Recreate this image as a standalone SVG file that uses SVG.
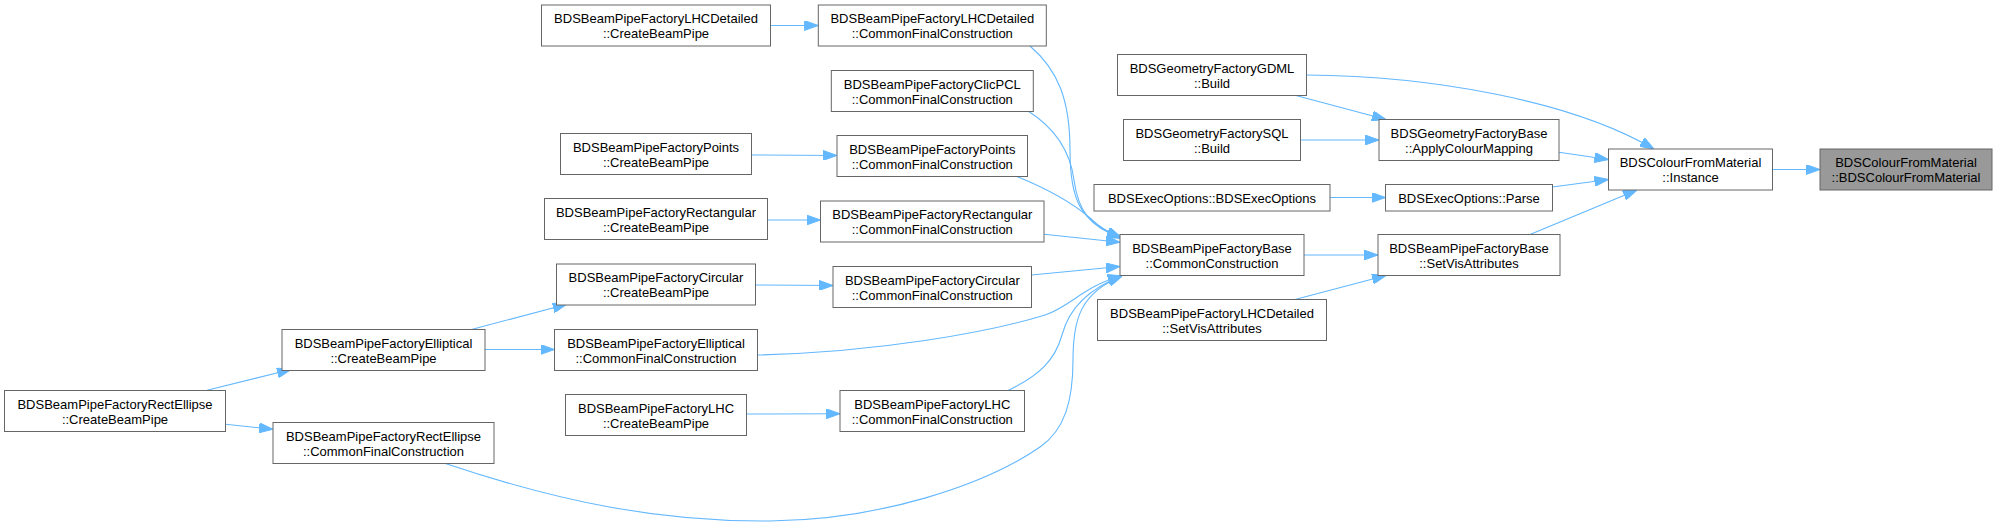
<svg xmlns="http://www.w3.org/2000/svg" width="1997" height="527" viewBox="0 0 1997 527">
<style>
.n rect{fill:#ffffff;stroke:#666666;stroke-width:1}
.n.hl rect{fill:#999999}
.n text{font-family:"Liberation Sans",Arial,Helvetica,sans-serif;font-size:13px;fill:#000000;text-anchor:middle}
.e path{fill:none;stroke:#63b8ff;stroke-width:1.1;marker-end:url(#ah)}
</style>
<defs>
<marker id="ah" markerUnits="userSpaceOnUse" markerWidth="14" markerHeight="10" viewBox="0 0 14 10" refX="14" refY="5" orient="auto">
<path d="M0,0 L14,5 L0,10 z" fill="#63b8ff" stroke="#63b8ff" stroke-width="1"/>
</marker>
</defs>
<rect x="0" y="0" width="1997" height="527" fill="#ffffff"/>
<g id="connectors" class="e">
<path d="M770.5,25.5 L818.3,25.5"/>
<path d="M1030,46 C1058,70 1070,100 1070,150 C1070,200 1080,222 1121,237"/>
<path d="M1028,111 C1055,128 1070,150 1074,180 C1078,210 1090,228 1121,237.5"/>
<path d="M751.5,155 L837,155.5"/>
<path d="M1017,176.5 C1050,190 1075,205 1090,218 C1100,228 1110,233 1121,238.5"/>
<path d="M767.5,220 L820.5,220"/>
<path d="M1044,234.3 L1120,242.3"/>
<path d="M755.5,285 L833,285.5"/>
<path d="M1031.5,275 L1120,266.5"/>
<path d="M471.4,329.5 L566.8,304.3"/>
<path d="M485,349.5 L554.5,349.5"/>
<path d="M757.5,355 C880,352 990,332 1045,315 C1070,307 1085,285 1122,276"/>
<path d="M746.5,414 L840,413.7"/>
<path d="M1008,390.5 C1040,375 1055,360 1062,335 C1068,312 1085,290 1122,276"/>
<path d="M207.1,390.3 L291.1,369.5"/>
<path d="M225.5,424.3 L273,429.3"/>
<path d="M444.6,463.3 C560,502 660,522 770,521 C880,520 985,485 1040,447 C1065,430 1073,400 1073,360 C1073,320 1080,293 1122,276"/>
<path d="M1304,255 L1378,255"/>
<path d="M1295,299.5 L1386,275.5"/>
<path d="M1295,95.3 L1386,119.5"/>
<path d="M1300.5,140 L1379,140"/>
<path d="M1330,197.5 L1385.5,197.5"/>
<path d="M1306.5,75 C1430,76 1570,100 1654,149"/>
<path d="M1559,152.3 L1608.5,159.5"/>
<path d="M1552.5,187 L1608.5,179.5"/>
<path d="M1530,234.5 L1637,190"/>
<path d="M1772.5,169.5 L1820,169.5"/>
</g>
<g id="n_rectellipse_create" class="n"><rect x="4.5" y="390.5" width="221" height="41"/><text x="115" y="408.5">BDSBeamPipeFactoryRectEllipse</text><text x="115" y="423.5">::CreateBeamPipe</text></g>
<g id="n_elliptical_create" class="n"><rect x="282" y="329.5" width="203" height="41"/><text x="383.5" y="347.5">BDSBeamPipeFactoryElliptical</text><text x="383.5" y="362.5">::CreateBeamPipe</text></g>
<g id="n_rectellipse_cfc" class="n"><rect x="273" y="422.5" width="221" height="41"/><text x="383.5" y="440.5">BDSBeamPipeFactoryRectEllipse</text><text x="383.5" y="455.5">::CommonFinalConstruction</text></g>
<g id="n_lhcdetailed_create" class="n"><rect x="541.5" y="5" width="229" height="41"/><text x="656" y="23">BDSBeamPipeFactoryLHCDetailed</text><text x="656" y="38">::CreateBeamPipe</text></g>
<g id="n_points_create" class="n"><rect x="560.5" y="133.5" width="191" height="41"/><text x="656" y="151.5">BDSBeamPipeFactoryPoints</text><text x="656" y="166.5">::CreateBeamPipe</text></g>
<g id="n_rectangular_create" class="n"><rect x="544.5" y="198.5" width="223" height="41"/><text x="656" y="216.5">BDSBeamPipeFactoryRectangular</text><text x="656" y="231.5">::CreateBeamPipe</text></g>
<g id="n_circular_create" class="n"><rect x="556.5" y="264" width="199" height="41"/><text x="656" y="282">BDSBeamPipeFactoryCircular</text><text x="656" y="297">::CreateBeamPipe</text></g>
<g id="n_elliptical_cfc" class="n"><rect x="554.5" y="329.5" width="203" height="41"/><text x="656" y="347.5">BDSBeamPipeFactoryElliptical</text><text x="656" y="362.5">::CommonFinalConstruction</text></g>
<g id="n_lhc_create" class="n"><rect x="565.5" y="394.5" width="181" height="41"/><text x="656" y="412.5">BDSBeamPipeFactoryLHC</text><text x="656" y="427.5">::CreateBeamPipe</text></g>
<g id="n_lhcdetailed_cfc" class="n"><rect x="818.3" y="5" width="228" height="41"/><text x="932.3" y="23">BDSBeamPipeFactoryLHCDetailed</text><text x="932.3" y="38">::CommonFinalConstruction</text></g>
<g id="n_clicpcl_cfc" class="n"><rect x="831.3" y="70.5" width="202" height="41"/><text x="932.3" y="88.5">BDSBeamPipeFactoryClicPCL</text><text x="932.3" y="103.5">::CommonFinalConstruction</text></g>
<g id="n_points_cfc" class="n"><rect x="837" y="135.5" width="190.5" height="41"/><text x="932.3" y="153.5">BDSBeamPipeFactoryPoints</text><text x="932.3" y="168.5">::CommonFinalConstruction</text></g>
<g id="n_rectangular_cfc" class="n"><rect x="820.5" y="201" width="223.5" height="41"/><text x="932.3" y="219">BDSBeamPipeFactoryRectangular</text><text x="932.3" y="234">::CommonFinalConstruction</text></g>
<g id="n_circular_cfc" class="n"><rect x="833" y="266.5" width="198.5" height="41"/><text x="932.3" y="284.5">BDSBeamPipeFactoryCircular</text><text x="932.3" y="299.5">::CommonFinalConstruction</text></g>
<g id="n_lhc_cfc" class="n"><rect x="840" y="390.5" width="184.5" height="41"/><text x="932.3" y="408.5">BDSBeamPipeFactoryLHC</text><text x="932.3" y="423.5">::CommonFinalConstruction</text></g>
<g id="n_gdml_build" class="n"><rect x="1117.5" y="54.5" width="189" height="41"/><text x="1212" y="72.5">BDSGeometryFactoryGDML</text><text x="1212" y="87.5">::Build</text></g>
<g id="n_sql_build" class="n"><rect x="1123.5" y="119.5" width="177" height="41"/><text x="1212" y="137.5">BDSGeometryFactorySQL</text><text x="1212" y="152.5">::Build</text></g>
<g id="n_execoptions_ctor" class="n"><rect x="1094" y="184.5" width="236" height="26.5"/><text x="1212" y="202.5">BDSExecOptions::BDSExecOptions</text></g>
<g id="n_common_construction" class="n"><rect x="1120" y="234.5" width="184" height="41"/><text x="1212" y="252.5">BDSBeamPipeFactoryBase</text><text x="1212" y="267.5">::CommonConstruction</text></g>
<g id="n_lhcdetailed_setvis" class="n"><rect x="1097.5" y="299.5" width="229" height="41"/><text x="1212" y="317.5">BDSBeamPipeFactoryLHCDetailed</text><text x="1212" y="332.5">::SetVisAttributes</text></g>
<g id="n_apply_colour" class="n"><rect x="1379" y="119.5" width="180" height="41"/><text x="1469" y="137.5">BDSGeometryFactoryBase</text><text x="1469" y="152.5">::ApplyColourMapping</text></g>
<g id="n_parse" class="n"><rect x="1385.5" y="184.5" width="167" height="26.5"/><text x="1469" y="202.5">BDSExecOptions::Parse</text></g>
<g id="n_setvis" class="n"><rect x="1378" y="234.5" width="182" height="41"/><text x="1469" y="252.5">BDSBeamPipeFactoryBase</text><text x="1469" y="267.5">::SetVisAttributes</text></g>
<g id="n_instance" class="n"><rect x="1608.5" y="149" width="164" height="41"/><text x="1690.5" y="167">BDSColourFromMaterial</text><text x="1690.5" y="182">::Instance</text></g>
<g id="n_target" class="n hl"><rect x="1820" y="149" width="172" height="41"/><text x="1906" y="167">BDSColourFromMaterial</text><text x="1906" y="182">::BDSColourFromMaterial</text></g>
</svg>
